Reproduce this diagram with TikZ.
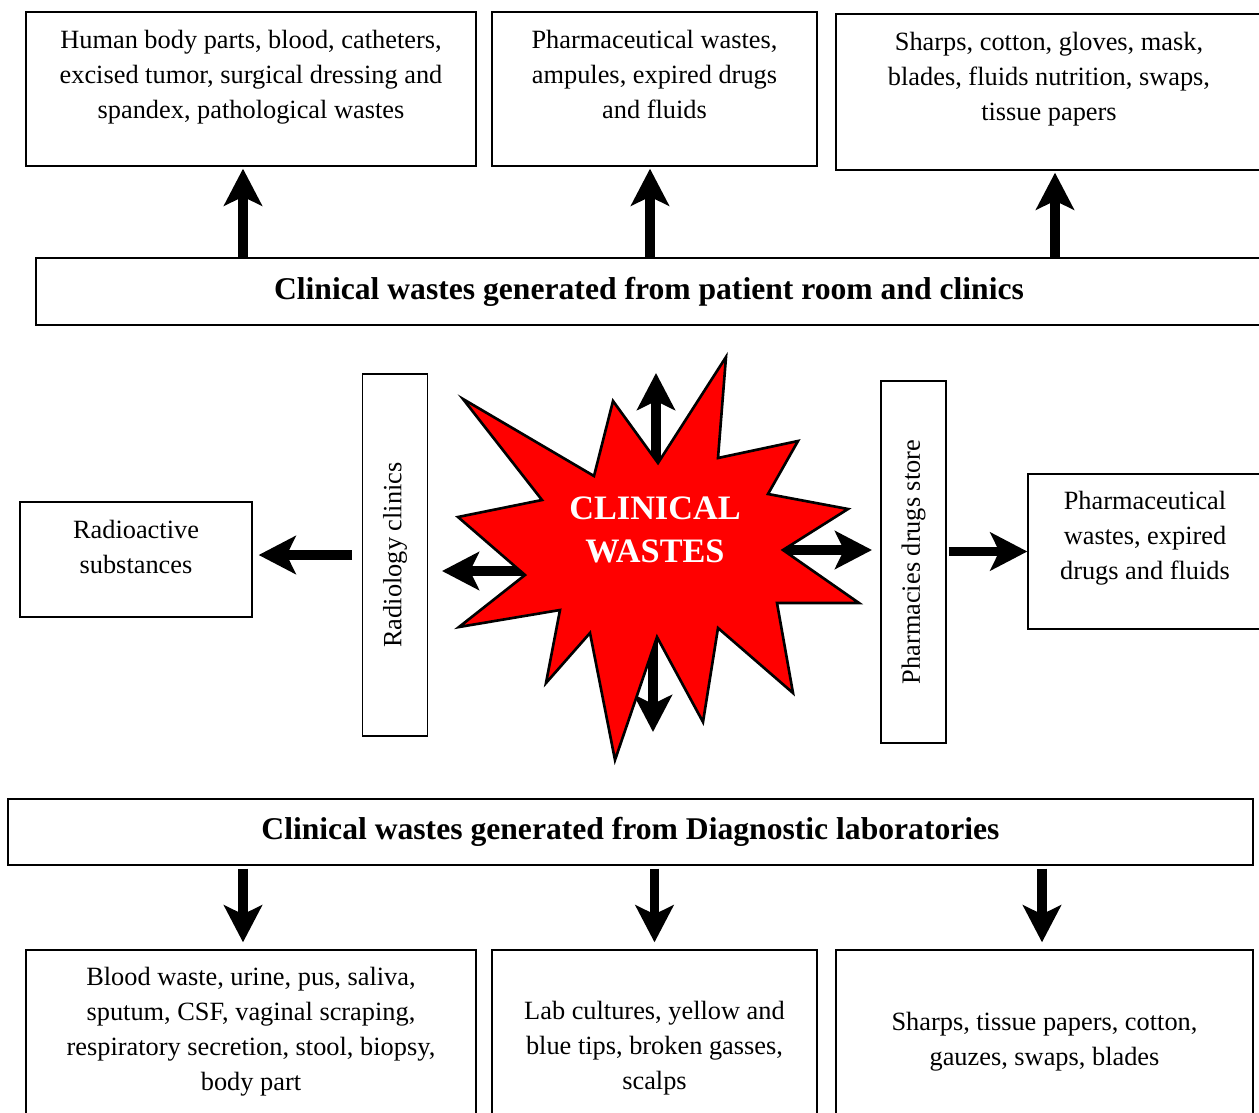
\documentclass[tikz,border=0pt]{standalone}
\usepackage{fontspec}
\setmainfont{Liberation Serif}
\usepackage{tikz}
\usetikzlibrary{arrows.meta, calc, positioning}
\newcommand{\boxfont}{\fontsize{15}{19.9}\selectfont}
\newcommand{\bannerfont}{\fontsize{18}{22}\selectfont\bfseries}
\tikzset{
  wastebox/.style n args={3}{
    draw, line width=0.8pt, inner sep=0pt, fill=white,
    execute at begin node={\begin{minipage}[c][#2][t]{#1}\centering\boxfont\vspace*{#3}},
    execute at end node={\end{minipage}}
  },
  bannerbox/.style={
    draw, line width=0.8pt, inner sep=0pt, fill=white,
    font=\bannerfont, minimum height=1.34cm
  },
  sidebox/.style={
    draw, line width=0.8pt, inner sep=0pt, rotate=90,
    font=\boxfont, minimum width=7.24cm, minimum height=1.29cm
  },
  fatarrow/.style={
    line width=5.4pt, -{Stealth[length=7.4mm, width=7.6mm, inset=1.8mm]}
  },
  starfill/.style={
    fill=red, draw=black, line width=1.5pt, line join=miter
  },
  startext/.style={
    text=white, align=center, font=\fontsize{19.5}{24.4}\selectfont\bfseries
  },
}
\begin{document}
\begin{tikzpicture}[x=0.02cm, y=-0.02cm]
  \useasboundingbox (0,0) rectangle (1259,1113);

  % Patient room and clinics
  \node[wastebox={9cm}{3.08cm}{0.36cm}] (tp1) at (251,89)
    {Human body parts, blood, catheters,\\excised tumor, surgical dressing and\\spandex, pathological wastes};
  \node[wastebox={6.5cm}{3.08cm}{0.36cm}] (tp2) at (654.5,89)
    {Pharmaceutical wastes,\\ampules, expired drugs\\and fluids};
  \node[wastebox={8.52cm}{3.12cm}{0.36cm}] (tp3) at (1049,92)
    {Sharps, cotton, gloves, mask,\\blades, fluids nutrition, swaps,\\tissue papers};
  \node[bannerbox, minimum width=24.52cm] (pat) at (649,291.5)
    {Clinical wastes generated from patient room and clinics};

  \draw[fatarrow, shorten >=0.04cm] ([xshift=-0.16cm]tp1.south |- pat.north) -- ([xshift=-0.16cm]tp1.south);
  \draw[fatarrow, shorten >=0.04cm] ([xshift=-0.09cm]tp2.south |- pat.north) -- ([xshift=-0.09cm]tp2.south);
  \draw[fatarrow, shorten >=0.04cm] ([xshift=0.12cm]tp3.south |- pat.north) -- ([xshift=0.12cm]tp3.south);

  % Radiology and pharmacies
  \node[wastebox={4.64cm}{2.3cm}{0.36cm}] (radio) at (136,559.5)
    {Radioactive\\substances};
  \node[sidebox] (rad) at (395,555) {Radiology clinics};
  \node[sidebox, minimum height=1.3cm] (pharm) at (913.5,562) {Pharmacies drugs store};
  \node[wastebox={4.68cm}{3.1cm}{0.34cm}] (pk) at (1145,551.5)
    {Pharmaceutical\\wastes, expired\\drugs and fluids};

  \draw[fatarrow, shorten <=0.2cm, shorten >=0.12cm] (rad.north) -- (rad.north -| radio.east);
  \draw[fatarrow, shorten <=0.04cm] (pk.west -| pharm.south) -- (pk.west);

  % Star with its four arrows
  \coordinate (sc) at (655,555);
  \coordinate (upTip) at (656,373);
  \coordinate (dnTip) at (653,732);
  \coordinate (lfTip) at (442,571);
  \coordinate (rtTip) at (872,550);
  \draw[fatarrow] (upTip |- sc) -- (upTip);
  \draw[fatarrow] (dnTip |- sc) -- (dnTip);
  \draw[fatarrow] (lfTip -| sc) -- (lfTip);
  \draw[fatarrow] (rtTip -| sc) -- (rtTip);

  \draw[starfill] (463,399) -- (594,476) -- (613,401) -- (658,463) -- (726,357)
    -- (718,458) -- (798,441) -- (768,494) -- (848,509) -- (783,550)
    -- (859,603) -- (777,603) -- (793,693) -- (718,628) -- (703,722)
    -- (657,637) -- (615,760) -- (590,633) -- (546,683) -- (560,610)
    -- (459,627) -- (525,575) -- (458,517) -- (542,500) -- cycle;
  \node[startext] (cw) at (655,530) {CLINICAL\\WASTES};

  % Diagnostic laboratories
  \node[bannerbox, minimum width=24.9cm, minimum height=1.32cm] (lab) at (630.5,832)
    {Clinical wastes generated from Diagnostic laboratories};
  \node[wastebox={9cm}{3.32cm}{0.34cm}] (bt1) at (251,1033)
    {Blood waste, urine, pus, saliva,\\sputum, CSF, vaginal scraping,\\respiratory secretion, stool, biopsy,\\body part};
  \node[wastebox={6.5cm}{3.32cm}{1.02cm}] (bt2) at (654.5,1033)
    {Lab cultures, yellow and\\blue tips, broken gasses,\\scalps};
  \node[wastebox={8.34cm}{3.32cm}{1.24cm}] (bt3) at (1044.5,1033)
    {Sharps, tissue papers, cotton,\\gauzes, swaps, blades};

  \draw[fatarrow, shorten <=0.06cm, shorten >=0.14cm] ([xshift=-0.16cm]bt1.north |- lab.south) -- ([xshift=-0.16cm]bt1.north);
  \draw[fatarrow, shorten <=0.06cm, shorten >=0.14cm] (bt2.north |- lab.south) -- (bt2.north);
  \draw[fatarrow, shorten <=0.06cm, shorten >=0.14cm] ([xshift=-0.05cm]bt3.north |- lab.south) -- ([xshift=-0.05cm]bt3.north);
\end{tikzpicture}
\end{document}
